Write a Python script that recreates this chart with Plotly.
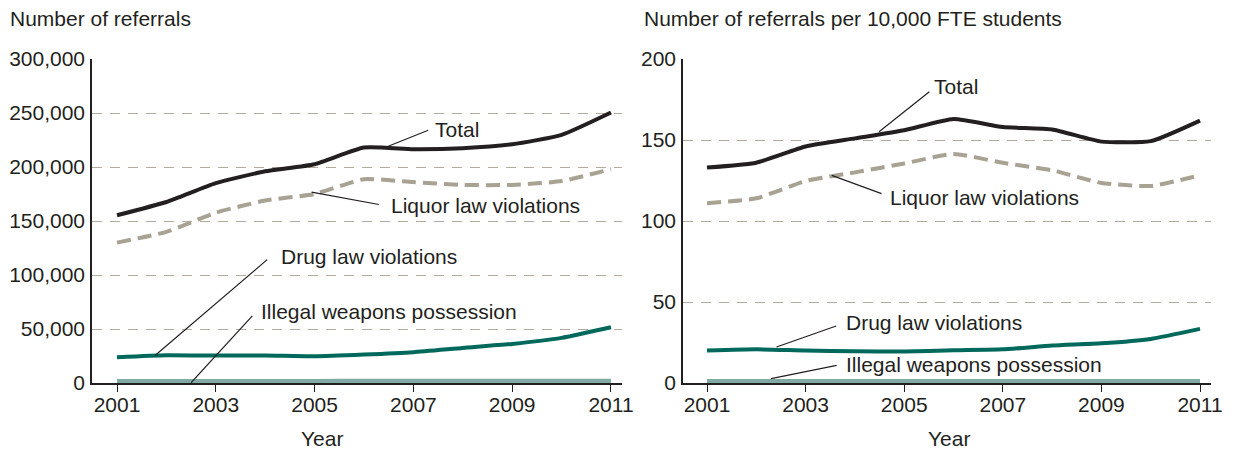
import plotly.graph_objects as go

# ---------------- data ----------------
years = [2001, 2002, 2003, 2004, 2005, 2006, 2007, 2008, 2009, 2010, 2011]
year_ticks = [2001, 2003, 2005, 2007, 2009, 2011]

total_count = [155300, 167600, 185000, 196000, 202600, 218000, 216500, 217400, 221000, 229800, 250500]
liquor_count = [130000, 140000, 157700, 169000, 175000, 188700, 186000, 183400, 183400, 187000, 198000]
drug_count = [23800, 25700, 25400, 25400, 24700, 26300, 28500, 32500, 36200, 41800, 51600]
weapons_count = [1400, 1500, 1500, 1500, 1500, 1600, 1600, 1600, 1600, 1600, 1700]

total_rate = [133, 136, 146, 151, 156, 163, 158, 156.5, 149, 149.3, 162]
liquor_rate = [111, 114, 124.7, 130, 135.5, 141.4, 135.9, 131.3, 123.5, 121.6, 128.2]
drug_rate = [20, 20.8, 20, 19.6, 19.4, 20.2, 20.8, 23.1, 24.5, 27.2, 33.4]
weapons_rate = [1.0, 1.0, 1.0, 1.0, 1.0, 1.0, 1.0, 1.0, 1.0, 1.0, 1.0]

count_ticks = [0, 50000, 100000, 150000, 200000, 250000, 300000]
count_tick_labels = ["0", "50,000", "100,000", "150,000", "200,000", "250,000", "300,000"]
rate_ticks = [0, 50, 100, 150, 200]
rate_tick_labels = ["0", "50", "100", "150", "200"]

series_names = ["Total", "Liquor law violations", "Drug law violations", "Illegal weapons possession"]
panel_titles = ["Number of referrals", "Number of referrals per 10,000 FTE students"]

# ---------------- styles ----------------
TEXT = "#231f20"
GRID = "#b5ab9d"
FONT = "Liberation Sans, Arial, Helvetica, sans-serif"
FS = 21
styles = {
    "Total": dict(color="#231f20", width=4, dash="solid"),
    "Liquor law violations": dict(color="#a8a293", width=4, dash="14px,7px"),
    "Drug law violations": dict(color="#00695b", width=4, dash="solid"),
    "Illegal weapons possession": dict(color="#82aaa5", width=5, dash="solid"),
}

# page body has an 8px margin: figure is placed at (8, 8) in the window
OFF = 8
W, H = 1233 - OFF, 451 - OFF
ML, MR, MT, MB = 92 - OFF, 22, 59 - OFF, 68
PW = W - ML - MR
PH = H - MT - MB


def px_x(p):
    return (p - OFF - ML) / PW


def px_y(p):
    return 1 - (p - OFF - MT) / PH


fig = go.Figure()

panels = [
    ("x", "y", [total_count, liquor_count, drug_count, weapons_count]),
    ("x2", "y2", [total_rate, liquor_rate, drug_rate, weapons_rate]),
]
for xa, ya, vals in panels:
    for name, v in zip(series_names, vals):
        st = styles[name]
        fig.add_trace(go.Scatter(
            x=years, y=v, mode="lines", name=name, xaxis=xa, yaxis=ya,
            line=dict(color=st["color"], width=st["width"], dash=st["dash"],
                      shape="spline", smoothing=0.5),
            cliponaxis=False, showlegend=False, hoverinfo="skip",
        ))

axis_common = dict(
    showline=True, linecolor=TEXT, linewidth=1.5,
    tickfont=dict(family=FONT, size=FS, color=TEXT),
    zeroline=False, automargin=False,
)
fig.update_layout(
    xaxis=dict(domain=[px_x(92), px_x(622)], range=[2000.494, 2011.223], tickvals=year_ticks,
               ticks="outside", ticklen=7, tickwidth=1.2, tickcolor=TEXT,
               ticklabelstandoff=-5, showgrid=False, anchor="y", **axis_common),
    yaxis=dict(domain=[0, 1], range=[0, 300000], tickvals=count_ticks, ticktext=count_tick_labels,
               ticks="", showgrid=True, gridcolor=GRID, gridwidth=1.3, griddash="10px,8px",
               ticklabelstandoff=1, anchor="x", **axis_common),
    xaxis2=dict(domain=[px_x(683), 1], range=[2000.513, 2011.223], tickvals=year_ticks,
                ticks="outside", ticklen=7, tickwidth=1.2, tickcolor=TEXT,
                ticklabelstandoff=-5, showgrid=False, anchor="y2", **axis_common),
    yaxis2=dict(domain=[0, 1], range=[0, 200], tickvals=rate_ticks, ticktext=rate_tick_labels,
                ticks="", showgrid=True, gridcolor=GRID, gridwidth=1.3, griddash="10px,8px",
                ticklabelstandoff=1, anchor="x2", **axis_common),
    width=W, height=H,
    margin=dict(l=ML, r=MR, t=MT, b=MB),
    paper_bgcolor="white", plot_bgcolor="white",
    font=dict(family=FONT, size=FS, color=TEXT),
)

# panel titles and axis titles
for txt, xp in zip(panel_titles, (8, 642)):
    fig.add_annotation(text=txt, xref="paper", yref="paper", x=px_x(xp), y=px_y(18),
                       xanchor="left", yanchor="middle", showarrow=False,
                       font=dict(family=FONT, size=FS, color=TEXT))
for xp in (322, 949):
    fig.add_annotation(text="Year", xref="paper", yref="paper", x=px_x(xp), y=px_y(438),
                       xanchor="center", yanchor="middle", showarrow=False,
                       font=dict(family=FONT, size=FS, color=TEXT))

# series labels with leader lines (label anchor, leader start, leader end)
labels = [
    ("x", "y", "Total", (2007.40, 235000), (2006.49, 219200), (2007.30, 234000)),
    ("x", "y", "Liquor law violations", (2006.50, 164400), (2004.94, 176700), (2006.30, 165300)),
    ("x", "y", "Drug law violations", (2004.28, 117300), (2001.77, 25400), (2004.04, 114200)),
    ("x", "y", "Illegal weapons possession", (2003.87, 66200), (2002.50, 300), (2003.74, 62200)),
    ("x2", "y2", "Total", (2005.56, 183.3), (2004.49, 155.1), (2005.51, 179.8)),
    ("x2", "y2", "Liquor law violations", (2004.68, 114.4), (2003.53, 128.2), (2004.54, 116.9)),
    ("x2", "y2", "Drug law violations", (2003.78, 37.2), (2002.41, 22.2), (2003.62, 35.2)),
    ("x2", "y2", "Illegal weapons possession", (2003.78, 11.5), (2002.30, 2.65), (2003.63, 10.9)),
]
for xa, ya, txt, (tx, ty), (x0, y0), (x1, y1) in labels:
    fig.add_shape(type="line", xref=xa, yref=ya, x0=x0, y0=y0, x1=x1, y1=y1,
                  line=dict(color=TEXT, width=1.2))
    fig.add_annotation(text=txt, xref=xa, yref=ya, x=tx, y=ty, xanchor="left", yanchor="middle",
                       showarrow=False, font=dict(family=FONT, size=FS, color=TEXT))

fig.write_html("out.html")
